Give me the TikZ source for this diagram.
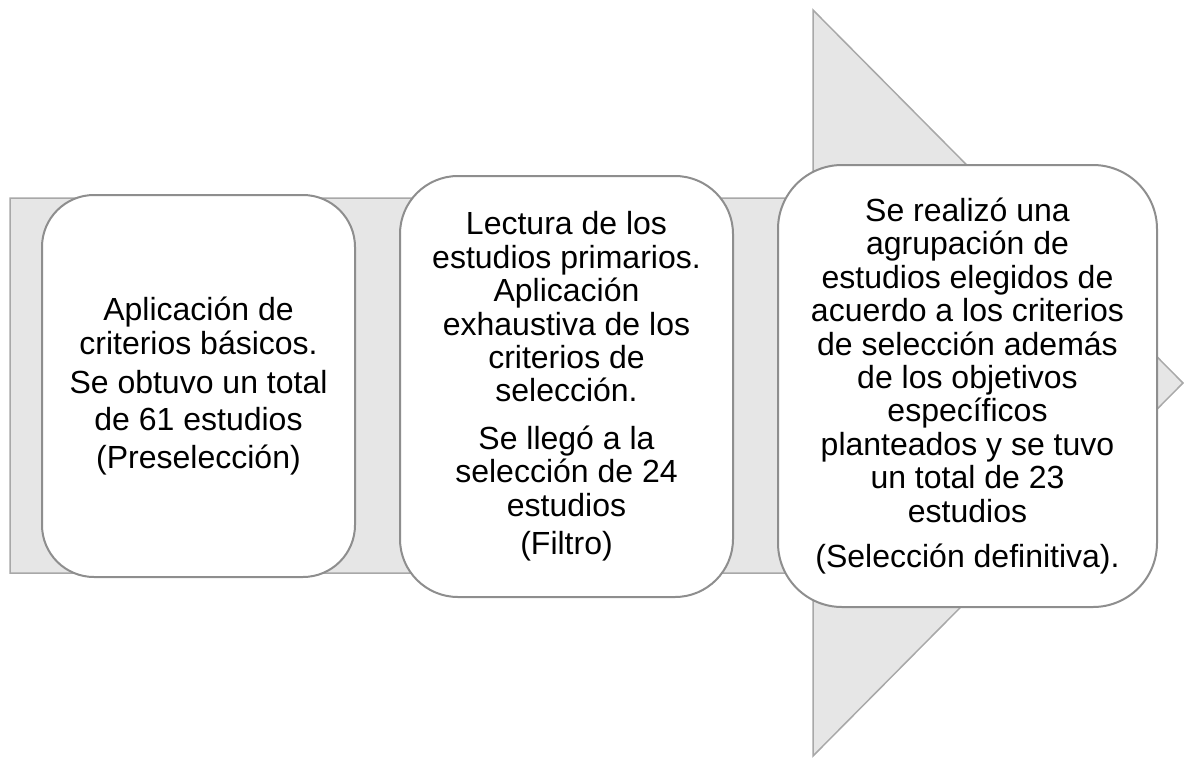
\documentclass[tikz,border=0pt]{standalone}
\usepackage{fontspec}
\setmainfont{Liberation Sans}
\definecolor{arrowfill}{HTML}{E6E6E6}
\definecolor{arrowline}{HTML}{A8A8A8}
\definecolor{boxline}{HTML}{8E8E8E}

\begin{document}
\begin{tikzpicture}[x=1pt, y=-1pt]
\tikzstyle{stage}=[rectangle, draw=boxline, line width=2pt, fill=white, align=center, inner sep=0pt, font=\fontsize{32}{33.4}\selectfont]

\useasboundingbox (0,0) rectangle (1184,758);

% big arrow behind the boxes
\filldraw[fill=arrowfill, draw=arrowline, line width=1.5pt]
  (10,198) -- (813,198) -- (813,10) -- (1183,383) -- (813,756) -- (813,573) -- (10,573) -- cycle;

\node[stage, rounded corners=52pt, minimum width=313pt, minimum height=382pt] (pre) at (198.5,386)
  {Aplicación de\\criterios básicos.\\[6pt]Se obtuvo un total\\[4pt]de 61 estudios\\[4pt](Preselección)};
\node[stage, rounded corners=58pt, minimum width=333pt, minimum height=421pt] (filtro) at (566.5,386.5)
  {Lectura de los\\estudios primarios.\\Aplicación\\exhaustiva de los\\criterios de\\selección.\\[14pt]Se llegó a la\\selección de 24\\estudios\\[5pt](Filtro)};
\node[stage, rounded corners=64pt, minimum width=379pt, minimum height=442pt] (def) at (967.5,386)
  {Se realizó una\\agrupación de\\estudios elegidos de\\acuerdo a los criterios\\de selección además\\de los objetivos\\específicos\\planteados y se tuvo\\un total de 23\\estudios\\[12pt](Selección definitiva).};

\end{tikzpicture}
\end{document}
